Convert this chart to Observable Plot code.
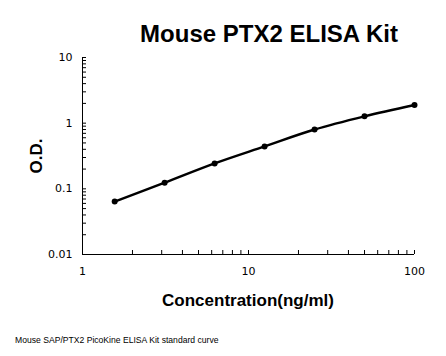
<!DOCTYPE html>
<html><head><meta charset="utf-8">
<script src="https://cdn.jsdelivr.net/npm/d3@7"></script>
<script src="https://cdn.jsdelivr.net/npm/@observablehq/plot@0.6"></script>
<style>
html,body{margin:0;padding:0;background:#fff;}
#wrap{position:relative;width:446px;height:356px;overflow:hidden;font-family:"Liberation Sans",Arial,sans-serif;}
#wrap svg{position:absolute;left:0;top:0;}
#wrap svg text{font-size:11px !important;font-family:"DejaVu Sans",sans-serif !important;}
.t{position:absolute;white-space:nowrap;color:#000;}
</style></head><body>
<div id="wrap">
  <div class="t" id="title" style="left:0;width:538px;text-align:center;top:20px;font-size:24px;font-weight:bold;">Mouse PTX2 ELISA Kit</div>
  <div class="t" id="xlab" style="left:0;width:496px;text-align:center;top:291px;font-size:17px;font-weight:bold;">Concentration(ng/ml)</div>
  <div class="t" id="ylab" style="left:37px;top:156px;font-size:17px;font-weight:bold;transform:translate(-50%,-50%) rotate(-90deg);">O.D.</div>
  <div class="t" id="cap" style="left:15px;top:335px;font-size:8.6px;">Mouse SAP/PTX2 PicoKine ELISA Kit standard curve</div>
</div>
<script>
const concentration = [1.5625, 3.125, 6.25, 12.5, 25, 50, 100];
const od = [0.064, 0.124, 0.244, 0.443, 0.80, 1.27, 1.89];
const xTickValues = [1, 10, 100];
const xTickLabels = ["1", "10", "100"];
const xMinorTicks = [1,2,3,4,5,6,7,8,9,10,20,30,40,50,60,70,80,90,100];
const yTickValues = [0.01, 0.1, 1, 10];
const yTickLabels = ["0.01", "0.1", "1", "10"];
const yMinorTicks = [0.01,0.02,0.03,0.04,0.05,0.06,0.07,0.08,0.09,0.1,0.2,0.3,0.4,0.5,0.6,0.7,0.8,0.9,1,2,3,4,5,6,7,8,9,10];

const data = concentration.map((c, i) => ({c, od: od[i]}));

const chart = Plot.plot({
  width: 446,
  height: 356,
  marginLeft: 82,
  marginRight: 32,
  marginTop: 57,
  marginBottom: 102,
  style: {background: "transparent", fontFamily: "DejaVu Sans", color: "#000"},
  x: {type: "log", domain: [1, 100], label: null},
  y: {type: "log", domain: [0.01, 10], label: null},
  marks: [
    Plot.ruleX([1], {stroke: "#000", strokeWidth: 1}),
    Plot.ruleY([0.01], {stroke: "#000", strokeWidth: 1}),
    Plot.axisX(xMinorTicks, {tickSize: -4, text: null, label: null, stroke: "#000"}),
    Plot.axisY(yMinorTicks, {tickSize: -4, text: null, label: null, stroke: "#000"}),
    Plot.axisX(xTickValues, {tickSize: 0, tickPadding: 13, label: null,
      tickFormat: d => xTickLabels[xTickValues.indexOf(d)], fill: "#000"}),
    Plot.axisY(yTickValues, {tickSize: 0, tickPadding: 10, label: null,
      tickFormat: d => yTickLabels[yTickValues.indexOf(d)], fill: "#000"}),
    Plot.line(data, {x: "c", y: "od", curve: "catmull-rom", stroke: "#000", strokeWidth: 2.5}),
    Plot.dot(data, {x: "c", y: "od", r: 3, fill: "#000", stroke: "none"})
  ]
});
document.getElementById("wrap").prepend(chart);
</script>
</body></html>
